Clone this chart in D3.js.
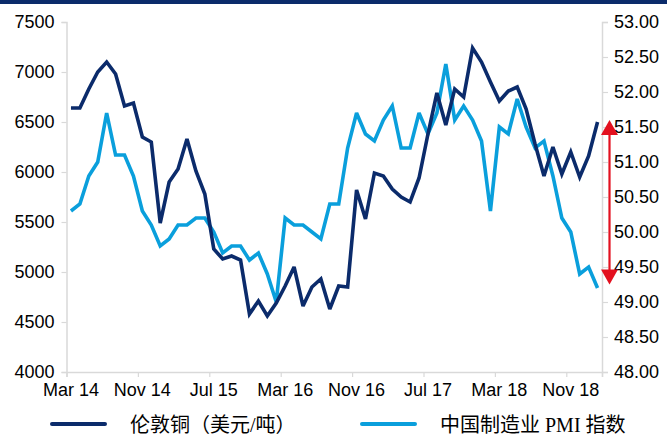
<!DOCTYPE html>
<html>
<head>
<meta charset="utf-8">
<script src="https://cdn.jsdelivr.net/npm/d3@7"></script>
<style>
  body { margin: 0; background: #fff; }
  svg { display: block; }
</style>
</head>
<body>
<svg id="chart" width="667" height="435"></svg>
<script>
// LME copper, USD per tonne, monthly from Mar 2014 to Feb 2019
const copper = [
  6640, 6640, 6830, 7000, 7100, 6980, 6660, 6690, 6350, 6300,
  5490, 5900, 6030, 6330, 6010, 5780, 5230, 5130, 5160, 5120,
  4580, 4710, 4560, 4690, 4860, 5050, 4660, 4850, 4930, 4630,
  4860, 4850, 5820, 5530, 5990, 5960, 5830, 5750, 5700, 5940,
  6380, 6790, 6470, 6830, 6750, 7240, 7100, 6900, 6710, 6810,
  6850, 6630, 6280, 5960, 6250, 5980, 6200, 5950, 6160, 6500
];

// China official manufacturing PMI, same months
const pmi = [
  50.3, 50.4, 50.8, 51.0, 51.7, 51.1, 51.1, 50.8, 50.3, 50.1,
  49.8, 49.9, 50.1, 50.1, 50.2, 50.2, 50.0, 49.7, 49.8, 49.8,
  49.6, 49.7, 49.4, 49.0, 50.2, 50.1, 50.1, 50.0, 49.9, 50.4,
  50.4, 51.2, 51.7, 51.4, 51.3, 51.6, 51.8, 51.2, 51.2, 51.7,
  51.4, 51.7, 52.4, 51.6, 51.8, 51.6, 51.3, 50.3, 51.5, 51.4,
  51.9, 51.5, 51.2, 51.3, 50.8, 50.2, 50.0, 49.4, 49.5, 49.2
];

const monthLabels = ["Mar 14", "Nov 14", "Jul 15", "Mar 16", "Nov 16", "Jul 17", "Mar 18", "Nov 18"];
const monthLabelStep = 8;
const copperTicks = [4000, 4500, 5000, 5500, 6000, 6500, 7000, 7500];
const pmiTicks = [48, 48.5, 49, 49.5, 50, 50.5, 51, 51.5, 52, 52.5, 53];
const seriesNames = ["伦敦铜（美元/吨）", "中国制造业 PMI 指数"];

const COLOR_COPPER = "#0b2b6b";
const COLOR_PMI = "#0a9fdc";
const AXIS_GREY = "#d9d9d9";
const RED = "#e3101f";

const svg = d3.select("#chart");
const plotLeft = 66.5, plotRight = 602, plotTop = 22, plotBottom = 372;

// top banner strip
svg.append("rect").attr("x", 0).attr("y", 0).attr("width", 667).attr("height", 4)
  .attr("fill", "#0b2b6b");

const x = d3.scaleLinear().domain([0, copper.length]).range([plotLeft, plotRight]);
const yL = d3.scaleLinear().domain([4000, 7500]).range([plotBottom, plotTop]);
const yR = d3.scaleLinear().domain([48, 53]).range([plotBottom, plotTop]);

const fontNum = "Liberation Sans, Arial, sans-serif";

// left axis
const gL = svg.append("g").attr("transform", `translate(${plotLeft},0)`)
  .call(d3.axisLeft(yL).tickValues(copperTicks).tickSize(5).tickPadding(7).tickFormat(d3.format("d")));
// right axis
const gR = svg.append("g").attr("transform", `translate(${plotRight},0)`)
  .call(d3.axisRight(yR).tickValues(pmiTicks).tickSize(6).tickPadding(6).tickFormat(d3.format(".2f")));
// bottom axis: ticks at month boundaries, labels centred on the month
const tickIdx = monthLabels.map((_, i) => i * monthLabelStep);
const gB = svg.append("g").attr("transform", `translate(0,${plotBottom})`)
  .call(d3.axisBottom(x).tickValues(tickIdx.concat([copper.length])).tickSize(5).tickFormat(""));

[gL, gR, gB].forEach(g => {
  g.select(".domain").attr("stroke", AXIS_GREY).attr("stroke-width", 1.5);
  g.selectAll(".tick line").attr("stroke", AXIS_GREY).attr("stroke-width", 1.2);
  g.selectAll(".tick text").attr("fill", "#000").style("font-family", fontNum).style("font-size", "18px");
});

svg.append("g").selectAll("text").data(monthLabels).join("text")
  .attr("x", (d, i) => x(i * monthLabelStep + 0.5))
  .attr("y", plotBottom + 24)
  .attr("text-anchor", "middle")
  .style("font-family", fontNum).style("font-size", "18px")
  .attr("fill", "#000")
  .text(d => d);

// series lines
const lineCopper = d3.line().x((d, i) => x(i + 0.5)).y(d => yL(d));
const linePmi = d3.line().x((d, i) => x(i + 0.5)).y(d => yR(d));

svg.append("path").datum(pmi).attr("d", linePmi)
  .attr("fill", "none").attr("stroke", COLOR_PMI).attr("stroke-width", 3.6)
  .attr("stroke-linejoin", "miter").attr("stroke-miterlimit", 3);
svg.append("path").datum(copper).attr("d", lineCopper)
  .attr("fill", "none").attr("stroke", COLOR_COPPER).attr("stroke-width", 3.6)
  .attr("stroke-linejoin", "miter").attr("stroke-miterlimit", 3);

// red double-headed arrow beside the right axis
const ax = 609.5, aTop = yR(51.6), aBot = yR(49.25), headH = 15, headW = 8.5;
svg.append("line").attr("x1", ax).attr("x2", ax)
  .attr("y1", aTop + headH - 1).attr("y2", aBot - headH + 1)
  .attr("stroke", RED).attr("stroke-width", 2.2);
svg.append("path")
  .attr("d", `M${ax},${aTop} L${ax + headW},${aTop + headH} L${ax - headW},${aTop + headH} Z`)
  .attr("fill", RED);
svg.append("path")
  .attr("d", `M${ax},${aBot} L${ax + headW},${aBot - headH} L${ax - headW},${aBot - headH} Z`)
  .attr("fill", RED);

// legend
const legend = svg.append("g");
const legendItems = [
  { name: seriesNames[0], color: COLOR_COPPER, x0: 52 },
  { name: seriesNames[1], color: COLOR_PMI, x0: 362 }
];
legendItems.forEach(it => {
  legend.append("line").attr("x1", it.x0).attr("x2", it.x0 + 53)
    .attr("y1", 424).attr("y2", 424)
    .attr("stroke", it.color).attr("stroke-width", 4).attr("stroke-linecap", "round");
  legend.append("text").attr("x", it.x0 + 78).attr("y", 432)
    .style("font-family", "Liberation Serif, 'Times New Roman', 'Noto Sans CJK SC', serif")
    .style("font-size", "20px").attr("fill", "#000")
    .text(it.name);
});
</script>
</body>
</html>
